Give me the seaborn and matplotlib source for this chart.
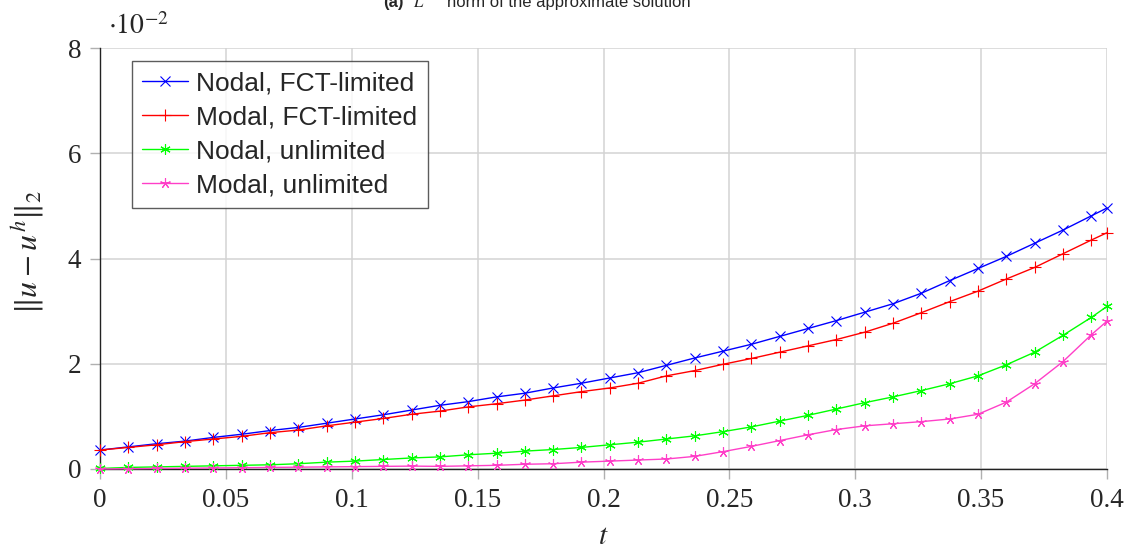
import matplotlib
matplotlib.use("Agg")
import matplotlib.pyplot as plt
import seaborn as sns
import pandas as pd

# time samples
t = [0.0, 0.01125, 0.0225, 0.03375, 0.045, 0.05625, 0.0675, 0.07875, 0.09,
     0.10125, 0.1125, 0.12375, 0.135, 0.14625, 0.1575, 0.16875, 0.18, 0.19125,
     0.2025, 0.21375, 0.225, 0.23625, 0.2475, 0.25875, 0.27, 0.28125, 0.2925,
     0.30375, 0.315, 0.32625, 0.3375, 0.34875, 0.36, 0.37125, 0.3825, 0.39375, 0.4]

# error values in units of 1e-2
nodal_fct = [0.36, 0.42, 0.48, 0.53, 0.60, 0.66, 0.73, 0.79, 0.87, 0.95, 1.03, 1.12,
             1.21, 1.28, 1.37, 1.44, 1.54, 1.63, 1.73, 1.83, 1.97, 2.11, 2.24, 2.37,
             2.52, 2.67, 2.82, 2.98, 3.14, 3.34, 3.58, 3.81, 4.04, 4.29, 4.54, 4.81, 4.96]
modal_fct = [0.36, 0.41, 0.46, 0.52, 0.57, 0.62, 0.69, 0.74, 0.82, 0.89, 0.96, 1.04,
             1.10, 1.18, 1.24, 1.31, 1.39, 1.47, 1.54, 1.63, 1.77, 1.87, 1.99, 2.10,
             2.22, 2.34, 2.46, 2.60, 2.77, 2.97, 3.18, 3.38, 3.61, 3.83, 4.09, 4.35, 4.49]
nodal_unl = [0.01, 0.03, 0.04, 0.05, 0.06, 0.07, 0.08, 0.10, 0.13, 0.15, 0.18, 0.21,
             0.23, 0.27, 0.30, 0.34, 0.37, 0.41, 0.46, 0.51, 0.57, 0.63, 0.71, 0.80,
             0.91, 1.02, 1.14, 1.26, 1.37, 1.49, 1.62, 1.77, 1.98, 2.22, 2.54, 2.88, 3.09]
modal_unl = [0.00, 0.005, 0.01, 0.015, 0.02, 0.025, 0.03, 0.035, 0.04, 0.045, 0.05, 0.055,
             0.05, 0.06, 0.07, 0.09, 0.10, 0.13, 0.15, 0.17, 0.19, 0.24, 0.33, 0.43,
             0.54, 0.65, 0.75, 0.82, 0.86, 0.90, 0.95, 1.04, 1.27, 1.62, 2.04, 2.55, 2.81]

labels = ["Nodal, FCT-limited", "Modal, FCT-limited", "Nodal, unlimited", "Modal, unlimited"]
x_ticks = [0, 0.05, 0.1, 0.15, 0.2, 0.25, 0.3, 0.35, 0.4]
x_ticklabels = ["0", "0.05", "0.1", "0.15", "0.2", "0.25", "0.3", "0.35", "0.4"]
y_ticks = [0, 2, 4, 6, 8]

sns.set_theme(style="white")
plt.rcParams["mathtext.fontset"] = "stix"

W, H = 1130, 548
fig = plt.figure(figsize=(W / 100, H / 100), dpi=100)
ax = fig.add_axes([100 / W, 1 - 469 / H, 1007 / W, 421 / H])

series = [nodal_fct, modal_fct, nodal_unl, modal_unl]
colors = ["#0000ff", "#ff0000", "#00ff00", "#ff3fc8"]
markers = ["x", "+", (6, 2, 0), (5, 2, 0)]
msizes = [6.5, 8, 7.5, 7.5]

for vals, lab, c, m, ms in zip(series, labels, colors, markers, msizes):
    df = pd.DataFrame({"t": t, "e": vals})
    sns.lineplot(data=df, x="t", y="e", ax=ax, color=c, marker=m, markersize=ms,
                 markeredgewidth=0.8, markeredgecolor=c, linewidth=1.0, label=lab,
                 clip_on=False, zorder=3)

ax.set_xlim(0, 0.4)
ax.set_ylim(0, 8)
ax.set_xticks(x_ticks)
ax.set_xticklabels(x_ticklabels)
ax.set_yticks(y_ticks)
ax.set_yticklabels([str(v) for v in y_ticks])
ax.grid(True, color="#d3d3d3", linewidth=1.1)
ax.set_axisbelow(True)
for s in ["top", "right"]:
    ax.spines[s].set_visible(False)
for s in ["left", "bottom"]:
    ax.spines[s].set_color("#222222")
    ax.spines[s].set_linewidth(1.0)
    ax.spines[s].set_zorder(2.5)

ax.tick_params(axis="both", which="major", direction="out", length=7.5, width=1.0,
               color="#b0b0b0", labelsize=19.5, pad=6, bottom=True, left=True)
for lbl in ax.get_xticklabels() + ax.get_yticklabels():
    lbl.set_fontfamily("Liberation Serif")
ax.set_xlabel("")
ax.set_ylabel("")

fig.text(603 / W, 1 - 536 / H, r"$t$", ha="center", va="center", fontsize=21)
fig.text(28 / W, 1 - 252 / H, r"$\Vert u - u^h \Vert_2$", ha="center", va="center",
         rotation=90, fontsize=23)
fig.text(108 / W, 1 - 34 / H, r"$\cdot 10^{-2}$", ha="left", va="baseline", fontsize=20)

# caption at top (clipped by the figure edge, as in the reference)
fig.text(383 / W, 1 - 7 / H, "(a)", ha="left", va="baseline", fontsize=12,
         fontweight="bold", family="Liberation Sans")
fig.text(413 / W, 1 - 7 / H, r"$L^2$", ha="left", va="baseline", fontsize=12)
fig.text(447 / W, 1 - 7 / H, "norm of the approximate solution", ha="left",
         va="baseline", fontsize=12, family="Liberation Sans")

leg = ax.legend(loc="upper left", bbox_to_anchor=(31.7 / 1007, (469 - 61) / 421),
                borderaxespad=0, frameon=True, fancybox=False, edgecolor="#333333",
                prop={"family": "Liberation Sans", "size": 19}, numpoints=1,
                handlelength=1.75, handletextpad=0.3, labelspacing=0.38, borderpad=0.4)
leg.get_frame().set_linewidth(1.0)

fig.savefig("out.png", dpi=100)
